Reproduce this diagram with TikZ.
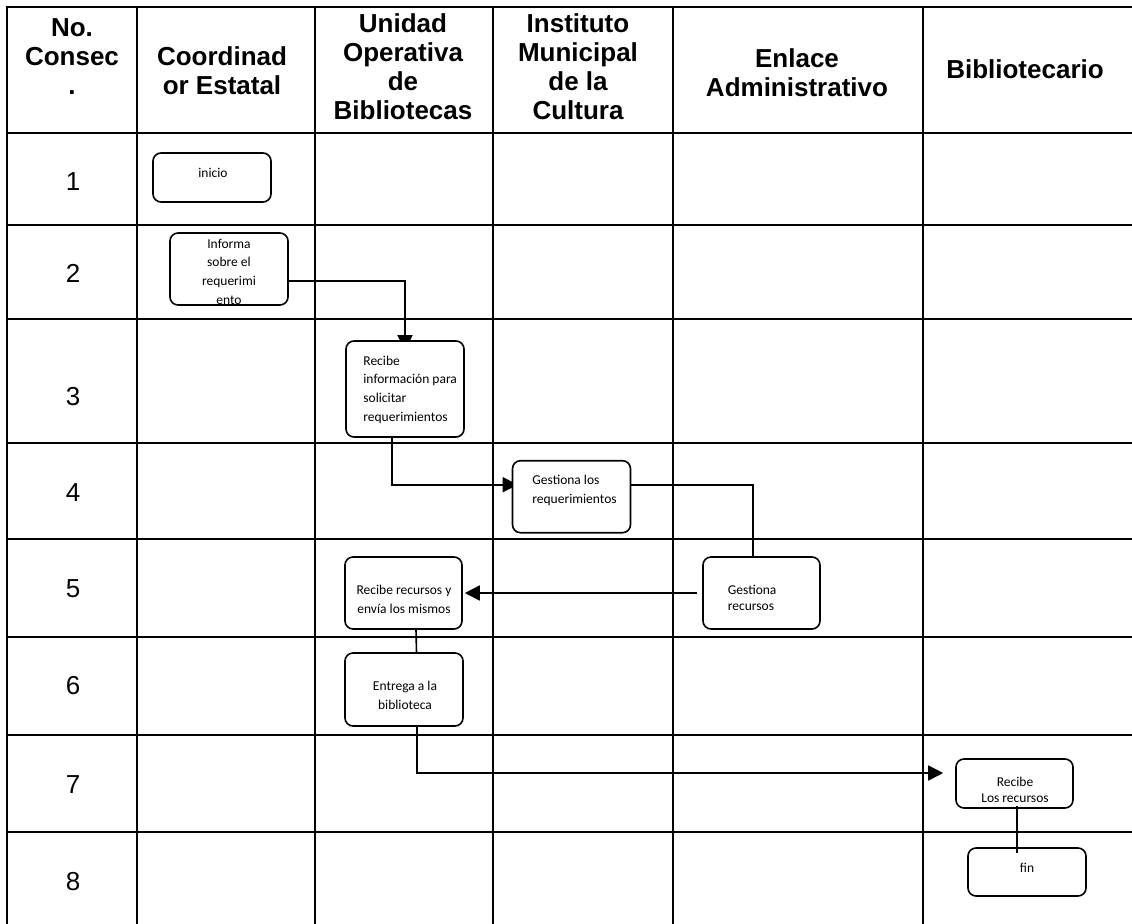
\documentclass[tikz,border=0pt]{standalone}
\usepackage{fontspec}
\setmainfont{Liberation Sans}
\newfontfamily\boxfont{Carlito}
\usetikzlibrary{arrows.meta,calc}
\pgfdeclarelayer{bg}
\pgfsetlayers{bg,main}
\tikzset{
  grid/.style={line width=1pt, line cap=rect},
  box/.style={draw, line width=0.8pt, rounded corners=4pt, fill=white, inner sep=0pt},
  btxt/.style={font=\boxfont\fontsize{6.75}{9.4}\selectfont, inner sep=0pt},
  hdr/.style={font=\fontsize{13}{14.5}\selectfont\bfseries, align=center, inner sep=0pt},
  num/.style={font=\fontsize{13}{15}\selectfont, inner sep=0pt},
  conn/.style={line width=0.8pt},
  arr/.style={conn, -{Triangle[length=7.5pt,width=7.5pt]}},
}
\begin{document}
\begin{tikzpicture}[x=0.5pt,y=-0.5pt]
\useasboundingbox (0,0) rectangle (1132,923);
% table grid
\begin{pgfonlayer}{bg}
  \foreach \y in {7,133,225,319,443,539,637,735,832} \draw[grid] (7,\y) -- (1132,\y);
  \foreach \x in {7,137,315,493,672.5,923} \draw[grid] (\x,7) -- (\x,923);
\end{pgfonlayer}
% header
\node[hdr] (h1) at (72,57) {No.\\Consec\\.};
\node[hdr] (h2) at (222,70.5) {Coordinad\\or Estatal};
\node[hdr] (h3) at (403,66.8) {Unidad\\Operativa\\de\\Bibliotecas};
\node[hdr] (h4) at (578,66.8) {Instituto\\Municipal\\de la\\Cultura};
\node[hdr] (h5) at (797,72.2) {Enlace\\Administrativo};
\node[hdr] (h6) at (1025,68.8) {Bibliotecario};
% row numbers
\node[num] (n1) at (73,181.7) {1};
\node[num] (n2) at (73,273) {2};
\node[num] (n3) at (73,396.7) {3};
\node[num] (n4) at (73,492.3) {4};
\node[num] (n5) at (73,589) {5};
\node[num] (n6) at (73,686) {6};
\node[num] (n7) at (73,785) {7};
\node[num] (n8) at (73,881.7) {8};
% boxes
\node[box, minimum width=59pt, minimum height=24.5pt] (inicio) at (212,177.5) {};
\node[box, minimum width=59pt, minimum height=36pt] (informa) at (229,269) {};
\node[box, minimum width=59pt, minimum height=48pt] (recinfo) at (405,389) {};
\node[box, minimum width=59pt, minimum height=36pt] (gestlos) at (571.5,496.7) {};
\node[box, minimum width=58.5pt, minimum height=36pt] (gestrec) at (761.5,593) {};
\node[box, minimum width=58.5pt, minimum height=36pt] (recrec) at (403.5,593) {};
\node[box, minimum width=59pt, minimum height=36.5pt] (entrega) at (404,689.5) {};
\node[box, minimum width=58.5pt, minimum height=24.5pt] (reclos) at (1014.5,783.5) {};
\node[box, minimum width=59pt, minimum height=24pt] (fin) at (1027,872) {};
% box texts
\node[btxt] (tinicio) at (213,173) {inicio};
\node[btxt, align=center] (tinforma) at (229,271.7) {Informa\\sobre el\\requerimi\\ento};
\node[btxt, align=left, anchor=west] (trecinfo) at (363,389.6) {Recibe\\información para\\solicitar\\requerimientos};
\node[btxt, align=left, anchor=west] (tgestlos) at (532,490) {Gestiona los\\requerimientos};
\node[btxt, align=center] (trecrec) at (404,599) {Recibe recursos y\\envía los mismos};
\node[btxt, align=left, anchor=west, font=\boxfont\fontsize{6.75}{8}\selectfont] (tgestrec) at (727.5,597.6) {Gestiona\\recursos};
\node[btxt, align=center] (tentrega) at (405,695) {Entrega a la\\biblioteca};
\node[btxt, align=center, font=\boxfont\fontsize{6.75}{8.2}\selectfont] (treclos) at (1015,790) {Recibe\\Los recursos};
\node[btxt] (tfin) at (1027,868.3) {fin};
% connectors
\begin{pgfonlayer}{bg}
  \draw[arr] ([yshift=-6pt]informa.east) -| ([yshift=-5pt]recinfo.north);
  \draw[arr] ([xshift=-6.5pt]recinfo.south) |- ([xshift=3pt,yshift=6pt]gestlos.west);
  \draw[conn] ([yshift=6pt]gestlos.east) -| ([xshift=-4.25pt]gestrec.north);
  \draw[arr] ([xshift=-2.5pt]gestrec.west) -- ([xshift=1pt]recrec.east);
  \draw[conn] ([xshift=6.25pt]recrec.south) -- ([xshift=6.25pt]entrega.north);
  \draw[arr] ([xshift=6.5pt]entrega.south) |- ([xshift=-6pt,yshift=5.25pt]reclos.west);
\end{pgfonlayer}
\draw[conn] ([xshift=1.25pt,yshift=1.5pt]reclos.south) -- ($(fin.north -| reclos.south)+(1.25pt,-3pt)$);
\end{tikzpicture}
\end{document}
